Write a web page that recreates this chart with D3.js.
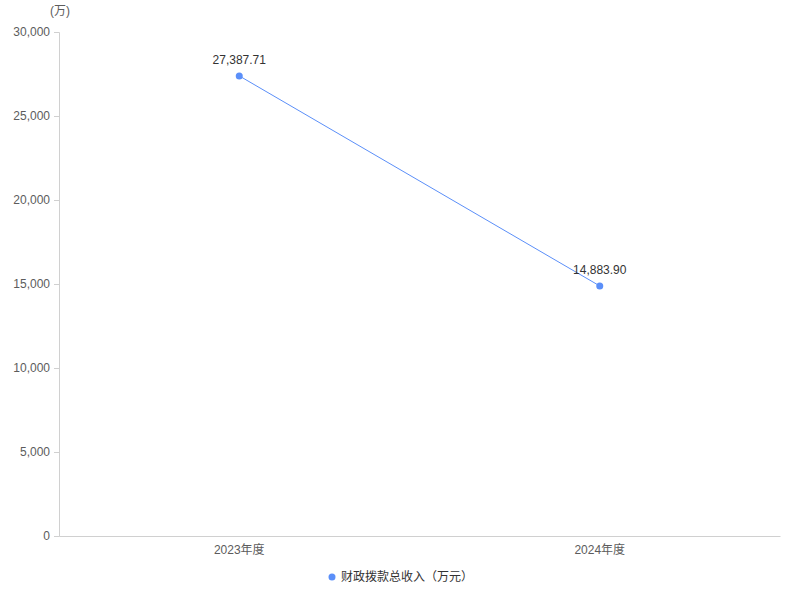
<!DOCTYPE html>
<html><head><meta charset="utf-8">
<script src="https://cdn.jsdelivr.net/npm/d3@7"></script>
<style>body{margin:0;background:#fff}svg{display:block}text{font-family:"Liberation Sans","Noto Sans CJK SC",sans-serif}</style>
</head><body>
<svg id="c" width="800" height="600"></svg>
<script>
const categories = ["2023年度", "2024年度"];
const values = [27387.71, 14883.90];
const valueLabels = ["27,387.71", "14,883.90"];
const yTicks = [0, 5000, 10000, 15000, 20000, 25000, 30000];
const seriesName = "财政拨款总收入（万元）";
const unitLabel = "(万)";

const svg = d3.select("#c");
const m = {left: 59, right: 780, top: 32, bottom: 536};
const x = d3.scaleBand().domain(categories).range([m.left, m.right]);
const y = d3.scaleLinear().domain([0, 30000]).range([m.bottom, m.top]);
const color = "#5b8ff9";
const axisColor = "#d0d0d0";
const textColor = "#5c5c5c";

// y axis
const ya = svg.append("g").attr("transform", `translate(${m.left},0)`)
  .call(d3.axisLeft(y).tickValues(yTicks).tickSize(5).tickPadding(4).tickFormat(d3.format(",")));
ya.selectAll("path,line").attr("stroke", axisColor);
ya.selectAll("text").attr("fill", textColor).attr("font-size", 12);

// x axis
const xa = svg.append("g").attr("transform", `translate(0,${m.bottom})`)
  .call(d3.axisBottom(x).tickSize(0).tickPadding(9).tickSizeOuter(0));
xa.select("path").attr("stroke", axisColor);
xa.selectAll("text").attr("fill", textColor).attr("font-size", 12);

svg.append("text").attr("x", 60).attr("y", 15).attr("text-anchor", "middle")
  .attr("font-size", 12).attr("fill", textColor).text(unitLabel);

const pts = categories.map((c, i) => [x(c) + x.bandwidth() / 2, y(values[i])]);
svg.append("path").attr("d", d3.line()(pts)).attr("fill", "none")
  .attr("stroke", color).attr("stroke-width", 1);
svg.selectAll("circle.p").data(pts).join("circle")
  .attr("cx", d => d[0]).attr("cy", d => d[1]).attr("r", 3.5).attr("fill", color);
svg.selectAll("text.v").data(pts).join("text")
  .attr("x", d => d[0]).attr("y", d => d[1] - 12).attr("text-anchor", "middle")
  .attr("font-size", 12).attr("fill", "#333").text((d, i) => valueLabels[i]);

// legend
svg.append("circle").attr("cx", 332).attr("cy", 577).attr("r", 3.5).attr("fill", color);
svg.append("text").attr("x", 341).attr("y", 581).attr("font-size", 12)
  .attr("fill", "#333").text(seriesName);
</script>
</body></html>
